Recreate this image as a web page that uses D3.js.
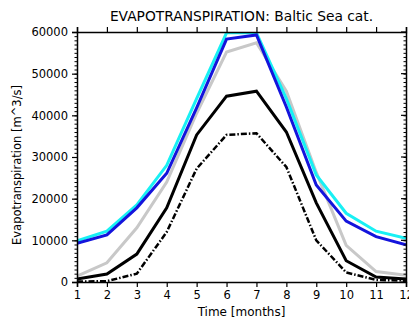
<!DOCTYPE html>
<html>
<head>
<meta charset="utf-8">
<script src="https://cdn.jsdelivr.net/npm/d3@7"></script>
<style>
  body { margin: 0; background: #fff; }
  svg { display: block; }
  text { font-family: "DejaVu Sans", sans-serif; fill: #000; }
</style>
</head>
<body>
<div id="chart"></div>
<script>
// months on the x axis
var months = [1, 2, 3, 4, 5, 6, 7, 8, 9, 10, 11, 12];
var yTicks = [0, 10000, 20000, 30000, 40000, 50000, 60000];

// evapotranspiration series [m^3/s] (cyan is cut at the top)
var grayVals  = [1400, 4600, 13000, 24000, 40500, 55200, 57400, 45800, 26300, 8800, 2500, 1600];
var cyanVals  = [9900, 12200, 18500, 28000, 44000, 59800, 59800, 44000, 25700, 16500, 12200, 10500];
var blueVals  = [9300, 11300, 17800, 26100, 41800, 58300, 59300, 42000, 23300, 14600, 10900, 8900];
var blackVals = [700, 1900, 6700, 17800, 35300, 44600, 45800, 36000, 19000, 5100, 1200, 700];
var dashVals  = [100, 200, 2000, 12000, 27200, 35300, 35700, 27600, 10000, 2300, 500, 300];

var series = [
  {vals: grayVals,  color: "#c8c8c8", width: 3},
  {vals: cyanVals,  color: "#18f0f4", width: 3},
  {vals: blueVals,  color: "#1414dc", width: 3},
  {vals: blackVals, color: "#000000", width: 3},
  {vals: dashVals,  color: "#000000", width: 2.5, dash: "6,2,1.5,2"}
];

var W = 409, H = 321;
var margin = {top: 32, right: 3, bottom: 39, left: 77};

var svg = d3.select("#chart").append("svg")
    .attr("width", W)
    .attr("height", H);

var x = d3.scaleLinear().domain([1, 12]).range([margin.left, W - margin.right]);
var y = d3.scaleLinear().domain([0, 60000]).range([H - margin.bottom, margin.top]);

// clip so the curves stop at the frame
svg.append("clipPath").attr("id", "clip")
  .append("rect")
    .attr("x", margin.left).attr("y", margin.top)
    .attr("width", x(12) - x(1)).attr("height", y(0) - y(60000));

var line = d3.line()
    .x(function(d, i){ return x(months[i]); })
    .y(function(d){ return y(d); });

var plot = svg.append("g").attr("clip-path", "url(#clip)");
series.forEach(function(s){
    plot.append("path")
        .attr("d", line(s.vals))
        .attr("fill", "none")
        .attr("stroke", s.color)
        .attr("stroke-width", s.width)
        .attr("stroke-dasharray", s.dash || null)
        .attr("stroke-linejoin", "miter");
});

// minor ticks every 1000 on the y axes
var minorY = d3.range(0, 60001, 1000);

//bottom axis
svg.append("g")
    .attr("transform", "translate(0," + y(0) + ")")
    .call(d3.axisBottom(x).tickValues(months).tickFormat(d3.format("d")).tickSize(5).tickPadding(4))
    .call(function(g){
        g.select(".domain").attr("stroke-width", 1.5);
        g.selectAll(".tick line").attr("stroke-width", 1.2);
        g.selectAll("text").style("font-size", "11.5px");
    });

//top axis, no labels
svg.append("g")
    .attr("transform", "translate(0," + y(60000) + ")")
    .call(d3.axisTop(x).tickValues(months).tickFormat("").tickSize(5))
    .call(function(g){
        g.select(".domain").attr("stroke-width", 1.5);
        g.selectAll(".tick line").attr("stroke-width", 1.2);
    });

//left axis: minor then major
svg.append("g")
    .attr("transform", "translate(" + x(1) + ",0)")
    .call(d3.axisLeft(y).tickValues(minorY).tickFormat("").tickSize(2.5))
    .call(function(g){ g.select(".domain").remove(); });

svg.append("g")
    .attr("transform", "translate(" + x(1) + ",0)")
    .call(d3.axisLeft(y).tickValues(yTicks).tickFormat(d3.format("d")).tickSize(5).tickPadding(4))
    .call(function(g){
        g.select(".domain").attr("stroke-width", 1.5);
        g.selectAll(".tick line").attr("stroke-width", 1.2);
        g.selectAll("text").style("font-size", "11.5px");
    });

//right axis, ticks inside
svg.append("g")
    .attr("transform", "translate(" + x(12) + ",0)")
    .call(d3.axisLeft(y).tickValues(minorY).tickFormat("").tickSizeInner(0).tickSizeOuter(0))
    .call(function(g){
        g.selectAll(".tick line").attr("x2", -2.5);
        g.select(".domain").attr("stroke-width", 1.5);
    });
svg.append("g")
    .attr("transform", "translate(" + x(12) + ",0)")
    .selectAll("line").data(yTicks).enter().append("line")
    .attr("x1", 0).attr("x2", -5)
    .attr("y1", function(d){ return y(d); })
    .attr("y2", function(d){ return y(d); })
    .attr("stroke", "#000").attr("stroke-width", 1.2);

// titles
svg.append("text")
    .attr("x", (x(1) + x(12)) / 2)
    .attr("y", 21)
    .attr("text-anchor", "middle")
    .style("font-size", "13.8px")
    .text("EVAPOTRANSPIRATION: Baltic Sea cat.");

svg.append("text")
    .attr("x", (x(1) + x(12)) / 2)
    .attr("y", 316)
    .attr("text-anchor", "middle")
    .style("font-size", "12px")
    .text("Time [months]");

svg.append("text")
    .attr("transform", "translate(21," + (y(30000) + 8) + ") rotate(-90)")
    .attr("text-anchor", "middle")
    .style("font-size", "11.5px")
    .text("Evapotranspiration [m^3/s]");
</script>
</body>
</html>
